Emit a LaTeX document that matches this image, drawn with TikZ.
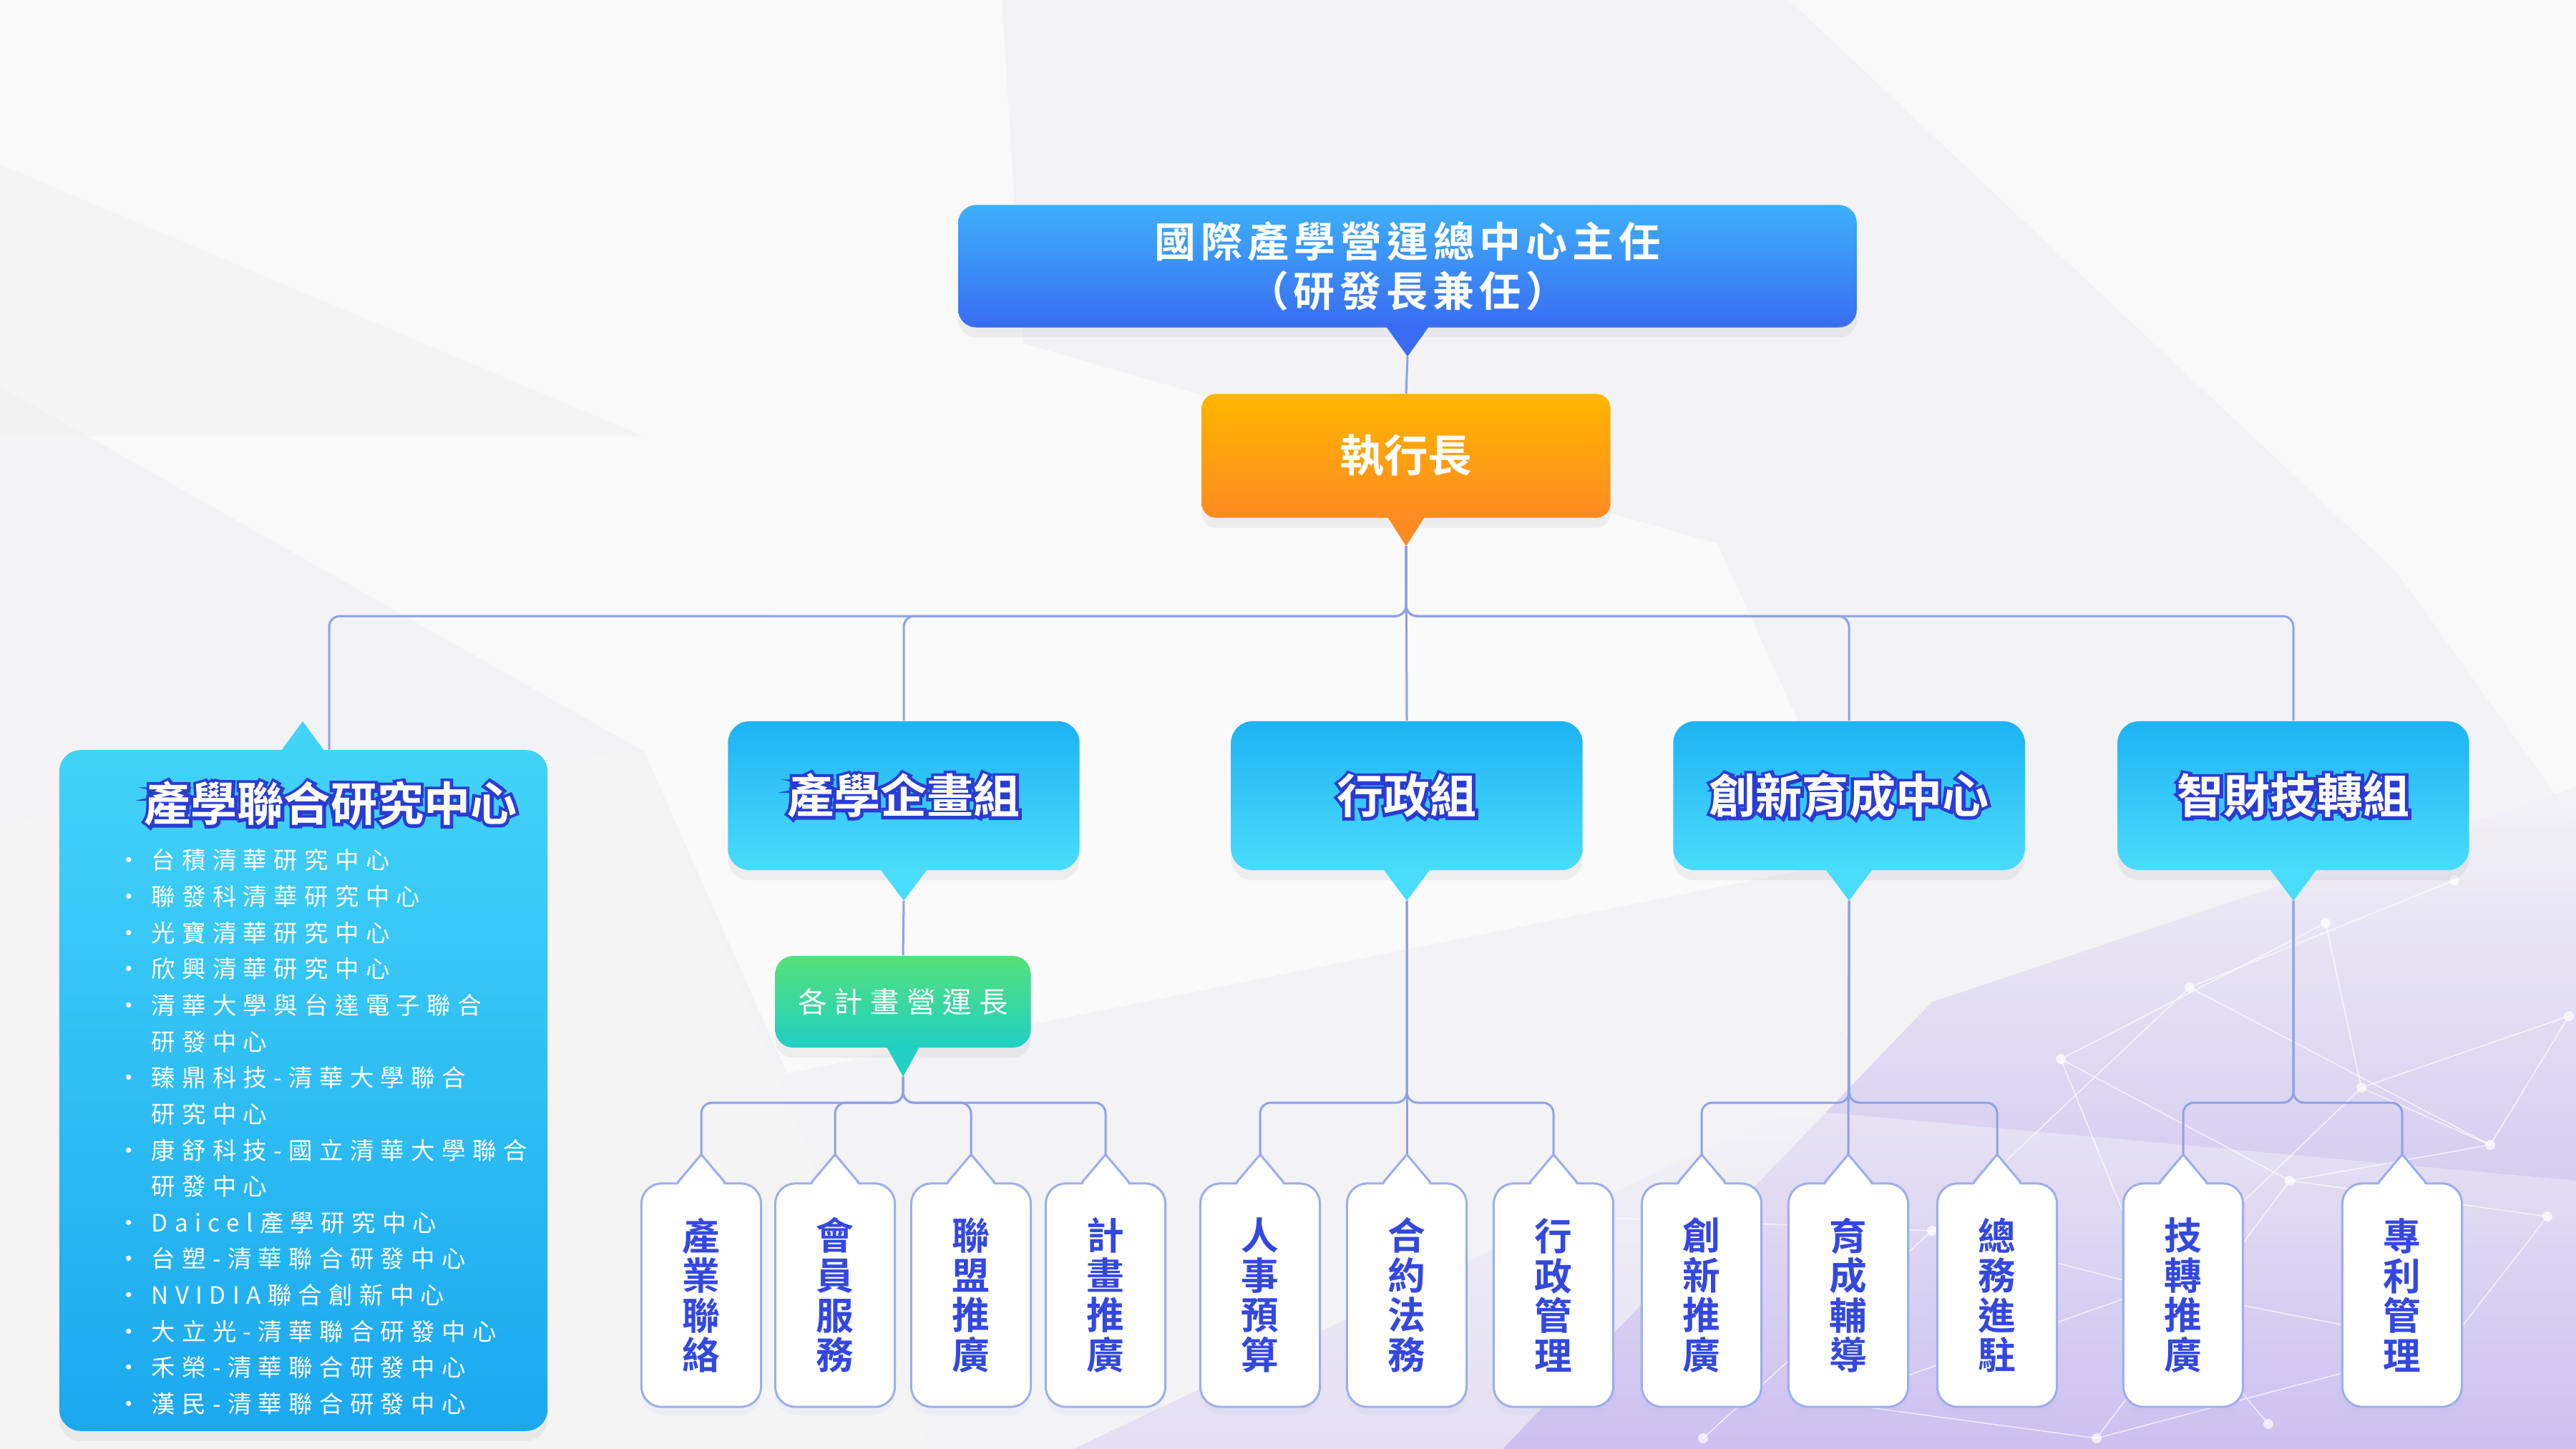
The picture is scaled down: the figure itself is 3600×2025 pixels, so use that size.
\documentclass[tikz,border=0pt]{standalone}
\usepackage{fontspec}
\usetikzlibrary{calc,shadows}
\newfontfamily\cjk{Noto Sans CJK TC}[BoldFont={Noto Sans CJK TC Bold}]
\newfontfamily\cjkol{Noto Sans CJK TC Bold}[FakeBold=12]
\newfontfamily\cjkt{Noto Sans CJK TC}[BoldFont={Noto Sans CJK TC Bold},LetterSpace=12]
\newfontfamily\cjkls{Noto Sans CJK TC}[LetterSpace=28]
\newfontfamily\cjkgr{Noto Sans CJK TC}[LetterSpace=25]
\definecolor{cbg}{HTML}{F3F3F6}
\definecolor{cconn}{HTML}{8EA1E8}
\definecolor{ctopt}{HTML}{3DB0FA}
\definecolor{ctopb}{HTML}{3A6CF2}
\definecolor{cceot}{HTML}{FFB600}
\definecolor{cceob}{HTML}{FF8A22}
\definecolor{cl2t}{HTML}{1EB3F4}
\definecolor{cl2b}{HTML}{4ADCFB}
\definecolor{cLt}{HTML}{42D3F8}
\definecolor{cLb}{HTML}{1CA8EF}
\definecolor{cgt}{HTML}{55E07A}
\definecolor{cgb}{HTML}{20D0C4}
\definecolor{cleafb}{HTML}{9DAEEE}
\definecolor{cleaft}{HTML}{3448E0}
\definecolor{colc}{HTML}{2A3CD2}
\definecolor{cpur}{HTML}{BBAAEC}
\newcommand\olt[1]{\rlap{\color{colc}\cjkol #1}{\color{white}#1}}
\newcommand\bl{\llap{·\hspace{0.45em}}}
\newcommand\downptr[4]{\fill[#4] ($(#1.south)+(-#2,-2)$) -- ($(#1.south)+(0,#3)$) -- ($(#1.south)+(#2,-2)$) -- cycle;
  \coordinate (#1-t) at ($(#1.south)+(0,#3)$);}
\newcommand\leafptr[1]{\fill[white] ($(#1.north)+(-33,4)$) -- ($(#1.north)+(0,-39)$) -- ($(#1.north)+(33,4)$) -- cycle;
  \draw[draw=cleafb, line width=0.03cm, line join=round] ($(#1.north)+(-33,0)$) -- ($(#1.north)+(0,-39)$) -- ($(#1.north)+(33,0)$);
  \coordinate (#1-t) at ($(#1.north)+(0,-39)$);}
\tikzset{
  connline/.style={draw=cconn, line width=0.03cm, rounded corners=0.15cm},
  softshadow/.style={drop shadow={shadow xshift=0pt, shadow yshift=-4pt, opacity=0.10}},
  l2box/.style={rounded corners=0.3cm, top color=cl2t, bottom color=cl2b, minimum width=4.91cm, minimum height=2.08cm,
    inner sep=0, font=\cjk\bfseries\fontsize{18.5}{20}\selectfont, softshadow},
  leafbox/.style={draw=cleafb, line width=0.03cm, fill=white, rounded corners=0.28cm, minimum width=1.67cm,
    minimum height=3.12cm, align=center, inner sep=0, text=cleaft, font=\cjk\bfseries\fontsize{15}{15.8}\selectfont,
    drop shadow={shadow xshift=0pt, shadow yshift=-3pt, opacity=0.08, fill=cleafb}},
}
\begin{document}
\begin{tikzpicture}[x=0.01cm, y=-0.01cm]
\useasboundingbox (0,0) rectangle (3600,2025);
% ---------- background ----------
\fill[cbg] (0,0) rectangle (3600,2025);
\fill[white, opacity=0.55] (0,0) -- (1400,0) -- (1430,480) -- (900,1050) -- (0,540) -- cycle;
\fill[black!5, opacity=0.5] (0,230) -- (900,610) -- (0,610) -- cycle;
\fill[white, opacity=0.6] (1430,480) -- (2400,760) -- (2600,1200) -- (1100,1500) -- (900,1050) -- cycle;
\fill[white, opacity=0.5] (2500,0) -- (3600,0) -- (3600,1150) -- (3350,800) -- cycle;
\fill[black!4, opacity=0.5] (0,1150) -- (900,1050) -- (1300,2025) -- (0,2025) -- cycle;
\shade[top color=cbg, bottom color=cpur, opacity=0.85] (2100,2025) -- (2700,1400) -- (3600,1100) -- (3600,2025) -- cycle;
\shade[top color=cbg, bottom color=cpur!60, opacity=0.5] (1500,2025) -- (2500,1550) -- (3600,1650) -- (3600,2025) -- cycle;
\begin{scope}[draw=white, line width=0.015cm, opacity=0.7]
  \foreach \a/\b in {2560/1960, 2700/1720, 2880/1480, 3060/1380, 3250/1290, 3430/1230, 3560/1700, 3420/1880,
                     3170/1990, 2930/2010, 3300/1520, 3590/1420, 2380/2010, 3010/1800, 3480/1600, 3200/1650}{
    \fill[white, opacity=0.7] (\a,\b) circle (7);
  }
  \draw (2380,2010) -- (2700,1720) -- (3060,1380) -- (3430,1230);
  \draw (2560,1960) -- (3010,1800) -- (3300,1520) -- (3590,1420);
  \draw (2700,1720) -- (3010,1800) -- (3420,1880) -- (3560,1700);
  \draw (2880,1480) -- (3200,1650) -- (3480,1600) -- (3590,1420);
  \draw (3250,1290) -- (3300,1520) -- (3480,1600);
  \draw (2930,2010) -- (3200,1650) -- (3560,1700);
  \draw (3170,1990) -- (3010,1800) -- (2880,1480) -- (3250,1290);
  \draw (2560,1960) -- (2930,2010) -- (3420,1880);
  \draw (3060,1380) -- (3480,1600);
  \draw (2200,1700) -- (2700,1720);
\end{scope}
% ---------- top level ----------
\node[rounded corners=0.25cm, top color=ctopt, bottom color=ctopb, minimum width=12.55cm, minimum height=1.71cm,
  align=center, text=white, inner sep=0, font=\cjkt\bfseries\fontsize{16.5}{19.6}\selectfont, softshadow]
  (dir) at (1967,372) {國際產學營運總中心主任\\（研發長兼任）};
\downptr{dir}{30}{40}{ctopb}
\node[rounded corners=0.2cm, top color=cceot, bottom color=cceob, minimum width=5.71cm, minimum height=1.73cm,
  text=white, inner sep=0, font=\cjk\bfseries\fontsize{17.5}{20}\selectfont, softshadow]
  (ceo) at (1965,637) {執行長};
\downptr{ceo}{26}{39}{cceob}
% ---------- left box ----------
\node[rounded corners=0.3cm, top color=cLt, bottom color=cLb, minimum width=6.82cm, minimum height=9.51cm,
  inner sep=0, softshadow] (L) at (424,1524) {};
\fill[cLt] (390,1053) -- (423,1008) -- (456,1053) -- cycle;
\coordinate (L-c) at ($(L.north)+(36,0)$);
\node[font=\cjk\bfseries\fontsize{18.5}{20}\selectfont, inner sep=0] (Ltitle) at (462,1123) {\olt{產學聯合研究中心}};
\node[anchor=north west, align=left, inner sep=0, text=white, font=\cjkls\fontsize{9.5}{14.4}\selectfont]
  (list) at (211,1186) {%
\bl 台積清華研究中心\\
\bl 聯發科清華研究中心\\
\bl 光寶清華研究中心\\
\bl 欣興清華研究中心\\
\bl 清華大學與台達電子聯合\\
研發中心\\
\bl 臻鼎科技-清華大學聯合\\
研究中心\\
\bl 康舒科技-國立清華大學聯合\\
研發中心\\
\bl Daicel產學研究中心\\
\bl 台塑-清華聯合研發中心\\
\bl NVIDIA聯合創新中心\\
\bl 大立光-清華聯合研發中心\\
\bl 禾榮-清華聯合研發中心\\
\bl 漢民-清華聯合研發中心};
% ---------- second level ----------
\node[l2box] (plan) at (1263,1112) {\olt{產學企畫組}};
\node[l2box] (admin) at (1966,1112) {\olt{行政組}};
\node[l2box] (incub) at (2584,1112) {\olt{創新育成中心}};
\node[l2box] (ip) at (3205,1112) {\olt{智財技轉組}};
\downptr{plan}{33}{42}{cl2b}
\downptr{admin}{33}{42}{cl2b}
\downptr{incub}{33}{42}{cl2b}
\downptr{ip}{33}{42}{cl2b}
\node[rounded corners=0.25cm, top color=cgt, bottom color=cgb, minimum width=3.57cm, minimum height=1.28cm,
  text=white, inner sep=0, font=\cjkgr\fontsize{11.5}{14}\selectfont, softshadow] (grn) at (1262,1400) {各計畫營運長};
\downptr{grn}{23}{40}{cgb}
% ---------- leaves ----------
\node[leafbox] (a1) at (980,1810) {產\\業\\聯\\絡};
\node[leafbox] (a2) at (1167,1810) {會\\員\\服\\務};
\node[leafbox] (a3) at (1357,1810) {聯\\盟\\推\\廣};
\node[leafbox] (a4) at (1545,1810) {計\\畫\\推\\廣};
\node[leafbox] (b1) at (1761,1810) {人\\事\\預\\算};
\node[leafbox] (b2) at (1966,1810) {合\\約\\法\\務};
\node[leafbox] (b3) at (2171,1810) {行\\政\\管\\理};
\node[leafbox] (c1) at (2378,1810) {創\\新\\推\\廣};
\node[leafbox] (c2) at (2583,1810) {育\\成\\輔\\導};
\node[leafbox] (c3) at (2791,1810) {總\\務\\進\\駐};
\node[leafbox] (d1) at (3051,1810) {技\\轉\\推\\廣};
\node[leafbox] (d2) at (3357,1810) {專\\利\\管\\理};
\foreach \n in {a1,a2,a3,a4,b1,b2,b3,c1,c2,c3,d1,d2}{\leafptr{\n}}
% ---------- connectors ----------
\draw[connline] (dir-t) -- (ceo.north);
\coordinate (busrow) at (0,861);
\coordinate (bc) at (ceo-t |- busrow);
\foreach \n in {L-c, plan.north, incub.north, ip.north}{
  \draw[connline] (ceo-t) -- (bc) -| (\n);
}
\draw[connline] (ceo-t) -- (admin.north);
\draw[connline] (plan-t) -- (grn.north);
\coordinate (subrow) at (0,1541);
\coordinate (ja) at (grn-t |- subrow);
\coordinate (jb) at (admin-t |- subrow);
\coordinate (jc) at (incub-t |- subrow);
\coordinate (jd) at (ip-t |- subrow);
\foreach \n in {a1,a2,a3,a4}{\draw[connline] (grn-t) -- (ja) -| (\n-t);}
\foreach \n in {b1,b3}{\draw[connline] (admin-t) -- (jb) -| (\n-t);}
\draw[connline] (admin-t) -- (b2-t);
\foreach \n in {c1,c3}{\draw[connline] (incub-t) -- (jc) -| (\n-t);}
\draw[connline] (incub-t) -- (c2-t);
\foreach \n in {d1,d2}{\draw[connline] (ip-t) -- (jd) -| (\n-t);}
\end{tikzpicture}
\end{document}
